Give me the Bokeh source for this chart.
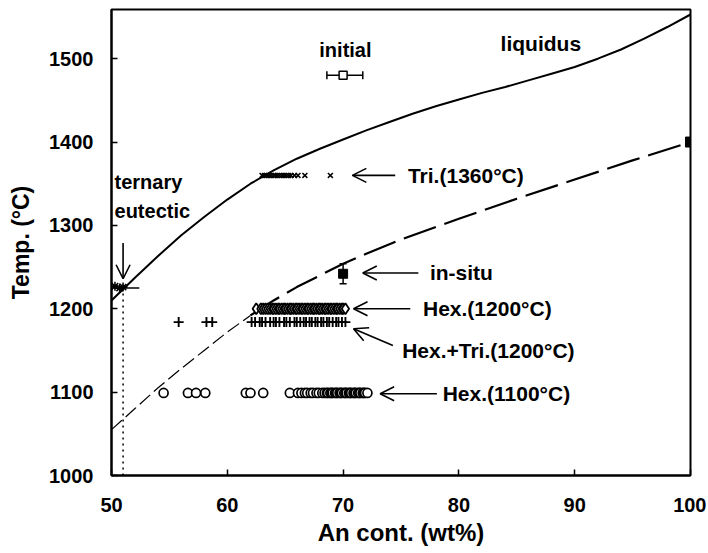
from bokeh.plotting import figure
from bokeh.models import Label, Arrow, OpenHead, Whisker, ColumnDataSource, FixedTicker, Range1d, TeeHead
from bokeh.embed import file_html
from bokeh.resources import INLINE

# ---- data ----
liq_x = [50, 52, 54, 56, 58, 60, 62, 64, 66, 68, 70, 72, 74, 76, 78, 80, 82, 84, 86, 88, 90, 92, 94, 96, 98, 100]
liq_t = [1210, 1237, 1263, 1288, 1310, 1331, 1350, 1366, 1380, 1392, 1403, 1414, 1424, 1434, 1443, 1451,
         1459, 1466, 1474, 1482, 1490, 1500, 1511, 1524, 1538, 1553]

sol_lo_x = [50, 52, 54, 56, 58, 60, 62]
sol_lo_t = [1055, 1080, 1105, 1128, 1150, 1172, 1192]
sol_hi_x = [62, 64, 66, 68, 70, 72, 75, 80, 85, 90, 95, 100]
sol_hi_t = [1192, 1210, 1226, 1240, 1254, 1266, 1283, 1308, 1332, 1355, 1378, 1400]

tri_x = [63.0, 63.2, 63.4, 63.6, 63.8, 64.0, 64.1, 64.3, 64.5, 64.7, 64.9, 65.1, 65.3, 65.5, 65.8, 66.1, 66.7, 68.9]
tri_t = 1360

hex1200_x = [62.5, 62.9, 63.1, 63.3, 63.5, 63.7, 63.9, 64.0, 64.2, 64.4, 64.5, 64.7, 64.9, 65.0, 65.2,
             65.4, 65.5, 65.7, 65.9, 66.0, 66.2, 66.4, 66.5, 66.7, 66.9, 67.0, 67.2, 67.4, 67.5, 67.7,
             67.9, 68.0, 68.2, 68.4, 68.5, 68.7, 68.9, 69.0, 69.2, 69.4, 69.5, 69.7, 69.9, 70.0, 70.2]
hex1200_t = 1200

hextri_x = [55.8, 58.2, 58.7, 62.1, 62.4, 62.8, 63.0, 63.3, 63.7, 64.0, 64.2, 64.5, 64.9, 65.1, 65.4, 65.8,
            66.0, 66.3, 66.6, 66.8, 67.1, 67.3, 67.6, 67.8, 68.1, 68.3, 68.6, 68.8, 69.1, 69.4, 69.6, 69.9, 70.2]
hextri_t = 1184

hex1100_x = [54.5, 56.6, 57.3, 58.1, 61.6, 62.0, 63.1, 65.4, 66.1, 66.4, 66.7, 66.9, 67.2, 67.4, 67.7,
             67.9, 68.2, 68.4, 68.6, 68.7, 68.9, 69.0, 69.1, 69.3, 69.4, 69.5, 69.7, 69.8, 69.9, 70.1,
             70.2, 70.3, 70.5, 70.6, 70.7, 70.9, 71.0, 71.1, 71.3, 71.4, 71.5, 71.7, 71.8, 71.9, 72.1]
hex1100_t = 1099

initial_x, initial_t, initial_lo, initial_hi = 70.0, 1480, 68.6, 71.7
insitu_x, insitu_t, insitu_lo, insitu_hi = 70.0, 1242, 1230, 1254
an100_x, an100_t = 100, 1400

eut_x = [50.3, 50.7, 51.0]
eut_t = [1227, 1225, 1226]
eut_comp = 51.0
eut_bar_lo, eut_bar_hi, eut_bar_t = 50.0, 52.4, 1225

x_ticks = [50, 60, 70, 80, 90, 100]
y_ticks = [1000, 1100, 1200, 1300, 1400, 1500]

FONT = "Liberation Sans"

p = figure(frame_width=579, frame_height=466, x_range=Range1d(50, 100), y_range=Range1d(1000, 1559),
           output_backend="svg", toolbar_location=None,
           min_border_left=111, min_border_right=16, min_border_top=9, min_border_bottom=70)
p.background_fill_color = "white"
p.border_fill_color = "white"
p.grid.visible = False
p.outline_line_color = "black"
p.outline_line_width = 2

for ax in (p.xaxis[0], p.yaxis[0]):
    ax.axis_line_width = 2
    ax.axis_line_color = "black"
    ax.major_tick_in = 6
    ax.major_tick_out = 0
    ax.major_tick_line_width = 1.5
    ax.minor_tick_line_color = None
    ax.major_label_text_font = FONT
    ax.major_label_text_font_style = "bold"
    ax.major_label_text_font_size = "20px"
    ax.major_label_text_color = "black"
    ax.axis_label_text_font = FONT
    ax.axis_label_text_font_style = "bold"
    ax.axis_label_text_color = "black"

p.xaxis.axis_label_text_font_size = "24px"
p.yaxis.axis_label_text_font_size = "23px"
p.xaxis.ticker = FixedTicker(ticks=x_ticks)
p.yaxis.ticker = FixedTicker(ticks=y_ticks)
p.xaxis.axis_label = "An cont. (wt%)"
p.yaxis.axis_label = "Temp. (°C)"
p.xaxis.major_label_standoff = 22
p.yaxis.major_label_standoff = 18
p.xaxis.axis_label_standoff = 4
p.yaxis.axis_label_standoff = 12

# curves
p.line(liq_x, liq_t, line_color="black", line_width=2)
p.line(sol_lo_x, sol_lo_t, line_color="black", line_width=1.2, line_dash="14 5")
p.line(sol_hi_x, sol_hi_t, line_color="black", line_width=2.2, line_dash="34 9")

# eutectic
p.line([eut_comp, eut_comp], [1000, eut_bar_t], line_color="black", line_width=1.5, line_dash="2 4")
p.segment(x0=[eut_bar_lo], y0=[eut_bar_t], x1=[eut_bar_hi], y1=[eut_bar_t], line_color="black", line_width=1.5)
p.scatter(eut_x, eut_t, marker="asterisk", size=9, line_color="black", line_width=1.5)

# data markers
p.scatter(tri_x, [tri_t] * len(tri_x), marker="x", size=7, line_color="black", line_width=1.5)
p.scatter(hex1200_x, [hex1200_t] * len(hex1200_x), marker="diamond", size=11,
          line_color="black", fill_color="white", line_width=1.8)
p.scatter(hextri_x, [hextri_t] * len(hextri_x), marker="cross", size=10, line_color="black", line_width=1.9)
p.scatter(hex1100_x, [hex1100_t] * len(hex1100_x), marker="circle", size=9,
          line_color="black", fill_color="white", line_width=1.7)

# initial with horizontal error bar
src_i = ColumnDataSource(dict(base=[initial_t], lower=[initial_lo], upper=[initial_hi]))
p.add_layout(Whisker(source=src_i, base="base", lower="lower", upper="upper", dimension="width",
                     line_width=1.5, line_color="black",
                     upper_head=TeeHead(size=8, line_width=1.5), lower_head=TeeHead(size=8, line_width=1.5)))
p.scatter([initial_x], [initial_t], marker="square", size=8, line_color="black", fill_color="white", line_width=1.5)

# in-situ with vertical error bar
src_s = ColumnDataSource(dict(base=[insitu_x], lower=[insitu_lo], upper=[insitu_hi]))
p.add_layout(Whisker(source=src_s, base="base", lower="lower", upper="upper", dimension="height",
                     line_width=1.5, line_color="black",
                     upper_head=TeeHead(size=7, line_width=1.5), lower_head=TeeHead(size=7, line_width=1.5)))
p.scatter([insitu_x], [insitu_t], marker="square", size=9, line_color="black", fill_color="black")
p.scatter([an100_x], [an100_t], marker="square", size=10, line_color="black", fill_color="black")

# arrows
def arrow(x0, y0, x1, y1):
    p.add_layout(Arrow(end=OpenHead(size=14, line_width=1.6, line_color="black"),
                       x_start=x0, y_start=y0, x_end=x1, y_end=y1,
                       line_width=1.6, line_color="black"))

arrow(51.0, 1279, 51.0, 1236)
arrow(74.5, 1360, 70.8, 1360)
arrow(76.5, 1243, 71.7, 1243)
arrow(75.8, 1200, 70.9, 1200)
arrow(74.3, 1156, 70.9, 1176)
arrow(78.1, 1098, 73.2, 1098)

def label(x, y, text, size="21px", align="left"):
    p.add_layout(Label(x=x, y=y, text=text, text_font=FONT, text_font_style="bold",
                       text_font_size=size, text_baseline="middle", text_align=align,
                       text_color="black"))

label(50.26, 1352, "ternary", size="20px")
label(50.26, 1317, "eutectic", size="20px")
label(70.2, 1510, "initial", size="20px", align="center")
label(83.6, 1518, "liquidus")
label(75.6, 1360, "Tri.(1360°C)")
label(77.5, 1243, "in-situ")
label(76.9, 1200, "Hex.(1200°C)")
label(75.1, 1150, "Hex.+Tri.(1200°C)")
label(78.6, 1098, "Hex.(1100°C)")

open("out.html", "w").write(file_html(p, INLINE))
